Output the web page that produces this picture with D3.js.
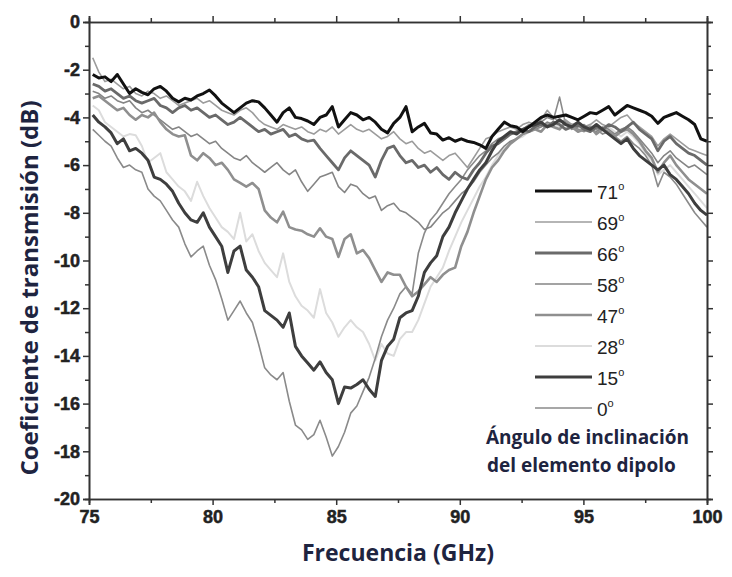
<!DOCTYPE html>
<html><head><meta charset="utf-8">
<script src="https://cdn.jsdelivr.net/npm/d3@7"></script>
<style>body{margin:0;background:#fff}svg{display:block}</style>
</head><body>
<svg id="chart" width="732" height="577"></svg>
<script>
// Frequency grid (GHz), evenly sampled
const freqStart = 75.15, freqStep = 0.2485, nPts = 101;
const freq = d3.range(nPts).map(i => freqStart + i * freqStep);

const xTicks = [75, 80, 85, 90, 95, 100];
const xMinorTicks = [77.5, 82.5, 87.5, 92.5, 97.5];
const yTicks = [0, -2, -4, -6, -8, -10, -12, -14, -16, -18, -20];
const yMinorTicks = [-1, -3, -5, -7, -9, -11, -13, -15, -17, -19];

const labels = ["71", "69", "66", "58", "47", "28", "15", "0"];

const s71 = [-2.2,-2.35,-2.3,-2.5,-2.2,-2.6,-3.0,-2.8,-2.95,-3.05,-2.8,-2.7,-2.9,-3.2,-3.35,-3.2,-3.27,-3.1,-3.0,-2.85,-3.1,-3.4,-3.6,-3.8,-3.6,-3.4,-3.3,-3.35,-3.6,-3.9,-4.2,-3.8,-3.6,-4.0,-4.05,-4.15,-4.3,-4.0,-3.9,-3.55,-4.4,-4.1,-3.8,-3.9,-4.1,-4.0,-4.2,-4.5,-4.65,-4.25,-4.0,-3.55,-4.6,-4.4,-4.25,-4.65,-4.7,-4.95,-4.85,-5.0,-4.9,-5.0,-5.05,-5.15,-5.3,-4.8,-4.5,-4.2,-4.35,-4.4,-4.6,-4.4,-4.2,-4.0,-3.9,-4.0,-3.95,-3.9,-4.0,-4.1,-3.95,-3.8,-3.85,-3.7,-3.55,-3.9,-3.7,-3.5,-3.6,-3.7,-3.8,-3.95,-4.25,-4.0,-3.9,-3.8,-3.95,-4.1,-4.3,-4.9,-5.0];
const s69 = [-1.5,-2.1,-2.5,-2.4,-2.6,-2.8,-2.7,-3.0,-3.1,-2.9,-3.0,-3.2,-3.1,-3.3,-3.5,-3.4,-3.3,-3.2,-3.4,-3.3,-3.5,-3.7,-3.8,-3.9,-3.7,-3.6,-3.8,-4.1,-4.3,-4.4,-4.5,-4.3,-4.4,-4.5,-4.4,-4.6,-4.7,-4.5,-4.6,-4.4,-4.7,-4.5,-4.3,-4.5,-4.6,-4.5,-4.7,-4.9,-4.8,-4.6,-4.9,-5.1,-5.0,-5.3,-5.5,-5.4,-5.6,-5.8,-5.6,-5.5,-5.8,-6.1,-5.7,-5.3,-4.9,-4.8,-4.6,-4.5,-4.4,-4.5,-4.3,-4.2,-4.3,-4.1,-3.7,-4.0,-4.2,-4.1,-4.3,-4.2,-4.4,-4.3,-4.1,-4.3,-4.4,-4.2,-4.0,-3.9,-4.2,-4.4,-4.6,-4.8,-5.2,-4.9,-4.7,-4.9,-5.1,-5.3,-5.4,-5.5,-5.6];
const s66 = [-2.6,-2.7,-2.9,-2.8,-3.0,-3.2,-3.1,-3.3,-3.4,-3.3,-3.2,-3.5,-3.6,-3.8,-3.6,-3.5,-3.7,-3.6,-3.8,-4.0,-3.9,-4.1,-4.3,-4.2,-4.0,-4.2,-4.4,-4.6,-4.5,-4.7,-4.6,-4.5,-4.8,-4.7,-4.9,-5.0,-4.95,-5.3,-5.6,-5.9,-6.2,-5.7,-5.4,-5.6,-5.8,-6.0,-6.5,-5.8,-5.3,-5.2,-5.6,-5.9,-5.8,-6.1,-6.0,-6.3,-6.1,-6.4,-6.6,-6.3,-6.5,-6.6,-6.2,-5.9,-5.5,-5.2,-5.1,-4.9,-4.7,-4.6,-4.5,-4.6,-4.4,-4.3,-4.4,-4.2,-4.3,-4.5,-4.4,-4.3,-4.5,-4.6,-4.4,-4.5,-4.3,-4.4,-4.6,-4.4,-4.2,-4.5,-4.7,-4.9,-5.4,-5.0,-4.8,-5.1,-5.3,-5.5,-5.6,-5.8,-6.0];
const s58 = [-2.9,-3.0,-3.2,-3.1,-3.3,-3.4,-3.3,-3.6,-3.8,-3.7,-3.9,-4.1,-4.3,-4.5,-4.4,-4.6,-4.8,-4.7,-4.9,-5.1,-5.0,-5.3,-5.5,-5.7,-5.8,-5.6,-5.9,-6.1,-6.3,-6.1,-5.9,-6.2,-6.4,-6.2,-6.7,-7.1,-6.8,-6.5,-6.4,-6.3,-6.9,-7.15,-6.8,-6.9,-7.2,-7.4,-7.3,-7.9,-7.7,-7.6,-7.9,-8.0,-8.2,-8.4,-8.7,-8.6,-8.3,-8.0,-7.8,-7.5,-7.2,-7.0,-6.7,-6.3,-6.0,-5.7,-5.5,-5.2,-5.0,-4.9,-4.7,-4.6,-4.5,-4.4,-4.2,-4.3,-4.1,-4.3,-4.5,-4.4,-4.3,-4.5,-4.6,-4.4,-4.5,-4.7,-4.5,-4.4,-4.6,-4.9,-5.2,-5.5,-5.9,-5.6,-5.4,-5.7,-5.9,-6.1,-6.0,-6.2,-6.4];
const s47 = [-3.2,-3.1,-3.3,-3.5,-3.7,-3.6,-3.9,-4.1,-3.9,-4.0,-3.8,-4.2,-4.5,-4.7,-4.8,-4.75,-5.6,-5.8,-5.5,-5.7,-6.0,-5.9,-6.2,-6.6,-6.75,-6.9,-6.75,-7.0,-7.9,-8.2,-8.4,-7.95,-8.6,-8.7,-8.75,-8.9,-9.0,-8.65,-9.0,-9.1,-9.85,-9.1,-8.9,-9.7,-9.56,-9.9,-10.4,-10.9,-10.5,-10.6,-10.6,-11.1,-11.5,-11.3,-11.0,-10.7,-10.9,-10.6,-10.4,-10.3,-9.4,-8.8,-8.0,-7.3,-6.6,-6.1,-5.8,-5.4,-5.1,-4.9,-4.7,-4.6,-4.5,-4.6,-4.3,-4.4,-4.5,-4.2,-4.4,-4.6,-4.5,-4.4,-4.7,-4.5,-4.6,-4.8,-4.6,-4.5,-4.7,-5.0,-5.4,-5.7,-6.3,-5.9,-5.6,-6.0,-6.3,-6.6,-6.8,-7.0,-7.2];
const s28 = [-3.5,-3.7,-4.2,-4.4,-4.6,-4.8,-4.7,-4.75,-5.2,-5.9,-5.7,-5.5,-6.3,-6.6,-6.9,-7.1,-7.5,-6.7,-7.3,-7.8,-8.2,-8.6,-8.8,-9.1,-8.0,-9.2,-8.9,-9.6,-10.1,-10.4,-10.7,-9.7,-10.9,-11.5,-11.9,-12.1,-12.4,-11.2,-12.2,-12.6,-13.2,-12.8,-12.5,-12.8,-13.0,-13.5,-14.2,-13.5,-13.9,-14.0,-13.3,-13.0,-13.0,-12.5,-11.8,-11.1,-10.7,-10.3,-9.6,-9.0,-8.4,-7.9,-7.4,-6.9,-6.5,-6.0,-5.6,-5.3,-5.1,-4.9,-4.8,-4.6,-4.5,-4.4,-4.2,-4.3,-4.4,-4.2,-4.3,-4.5,-4.4,-4.3,-4.5,-4.6,-4.4,-4.6,-4.8,-4.6,-4.8,-5.1,-5.5,-5.8,-6.4,-6.2,-6.0,-6.3,-6.6,-6.9,-7.2,-7.5,-7.8];
const s15 = [-3.9,-4.2,-4.4,-4.65,-5.1,-4.9,-5.4,-5.3,-5.5,-5.8,-6.5,-6.6,-6.8,-7.1,-7.6,-8.0,-8.3,-8.4,-8.0,-8.6,-9.0,-9.4,-10.5,-9.6,-9.4,-10.4,-10.7,-11.1,-12.1,-12.3,-12.5,-12.8,-12.2,-13.6,-14.0,-14.3,-14.6,-14.25,-14.7,-15.0,-16.0,-15.3,-15.35,-15.2,-15.0,-15.4,-15.7,-14.2,-13.6,-13.3,-12.4,-12.2,-12.1,-11.5,-10.5,-10.1,-9.8,-9.0,-8.6,-8.0,-7.5,-7.0,-6.6,-6.2,-5.9,-5.4,-5.0,-4.8,-4.6,-4.7,-4.5,-4.4,-4.3,-4.2,-4.4,-4.3,-4.1,-4.3,-4.4,-4.2,-4.4,-4.5,-4.3,-4.5,-4.7,-4.9,-5.1,-4.9,-5.3,-5.6,-5.8,-6.0,-6.2,-6.0,-6.4,-6.6,-6.9,-7.2,-7.6,-7.9,-8.1];
const s0 = [-4.5,-4.75,-5.0,-5.2,-5.7,-6.1,-6.0,-6.2,-6.3,-7.0,-7.3,-7.5,-7.9,-8.3,-8.6,-9.3,-9.85,-9.6,-9.4,-10.2,-10.8,-11.6,-12.5,-12.1,-11.7,-12.2,-12.6,-13.5,-14.5,-14.8,-15.0,-14.7,-15.9,-16.9,-17.1,-17.5,-17.3,-16.7,-17.4,-18.2,-17.8,-17.2,-16.4,-16.1,-15.5,-14.9,-14.1,-13.2,-12.5,-12.0,-11.4,-11.1,-11.4,-9.7,-8.85,-8.3,-8.0,-7.6,-7.2,-6.9,-6.6,-6.2,-5.9,-5.6,-5.4,-5.1,-4.9,-4.8,-4.7,-4.6,-4.5,-4.3,-4.4,-4.2,-4.0,-4.1,-3.15,-4.3,-4.3,-4.5,-4.6,-4.4,-4.5,-4.7,-4.6,-4.8,-5.0,-4.8,-5.1,-5.3,-5.6,-6.0,-6.9,-6.3,-6.5,-6.8,-7.2,-7.6,-8.0,-8.3,-8.6];

const seriesValues = [s71, s69, s66, s58, s47, s28, s15, s0];
const styles = [
  {c:"#111111", w:3},
  {c:"#9c9c9c", w:1.6},
  {c:"#6a6a6a", w:2.8},
  {c:"#858585", w:1.6},
  {c:"#8f8f8f", w:2.6},
  {c:"#dcdcdc", w:2},
  {c:"#3e3e3e", w:3},
  {c:"#8a8a8a", w:1.6}
];
const drawOrder = [5, 7, 1, 3, 4, 2, 6, 0];

const svg = d3.select("#chart");
const L = 89, R = 707, T = 22, B = 499;
const x = d3.scaleLinear().domain([75, 100]).range([L, R]);
const y = d3.scaleLinear().domain([-20, 0]).range([B, T]);

const plot = svg.append("g");
const line = d3.line().x((d, i) => x(freq[i])).y(d => y(d));
drawOrder.forEach(si => {
  plot.append("path").datum(seriesValues[si])
    .attr("d", line).attr("fill", "none")
    .attr("stroke", styles[si].c).attr("stroke-width", styles[si].w)
    .attr("stroke-linejoin", "round");
});

// Axes
const axisColor = "#333";
const fmt = d => String(d);
function styleAxis(g) {
  g.select(".domain").attr("stroke", axisColor).attr("stroke-width", 1.6);
  g.selectAll(".tick line").attr("stroke", axisColor).attr("stroke-width", 1.5);
  g.selectAll("text").attr("fill", "#222")
    .style("font-family", "'Liberation Sans', Arial, sans-serif")
    .style("font-size", "18px").style("font-weight", "bold")
    .attr("stroke", "#222").attr("stroke-width", 0.5);
}
svg.append("g").attr("transform", `translate(${L},0)`)
  .call(d3.axisLeft(y).tickValues(yTicks).tickSize(6).tickPadding(3).tickFormat(fmt)).call(styleAxis);
svg.append("g").attr("transform", `translate(${L},0)`)
  .call(d3.axisLeft(y).tickValues(yMinorTicks).tickSize(4).tickFormat("")).call(styleAxis);
svg.append("g").attr("transform", `translate(${R},0)`)
  .call(d3.axisRight(y).tickValues(yTicks).tickSize(6).tickFormat("")).call(styleAxis);
svg.append("g").attr("transform", `translate(${R},0)`)
  .call(d3.axisRight(y).tickValues(yMinorTicks).tickSize(4).tickFormat("")).call(styleAxis);
svg.append("g").attr("transform", `translate(0,${B})`)
  .call(d3.axisBottom(x).tickValues(xTicks).tickSize(6).tickPadding(5).tickFormat(fmt)).call(styleAxis);
svg.append("g").attr("transform", `translate(0,${B})`)
  .call(d3.axisBottom(x).tickValues(xMinorTicks).tickSize(4).tickFormat("")).call(styleAxis);
svg.append("g").attr("transform", `translate(0,${T})`)
  .call(d3.axisTop(x).tickValues(xTicks).tickSize(6).tickFormat("")).call(styleAxis);
svg.append("g").attr("transform", `translate(0,${T})`)
  .call(d3.axisTop(x).tickValues(xMinorTicks).tickSize(4).tickFormat("")).call(styleAxis);

// Axis titles
const titleColor = "#1e2440";
svg.append("text").attr("x", 398).attr("y", 561).attr("text-anchor", "middle")
  .attr("fill", titleColor).style("font-family", "'Open Sans', sans-serif").style("font-weight", "bold")
  .style("font-size", "23px").text("Frecuencia (GHz)");
svg.append("text").attr("transform", "translate(38,288) rotate(-90)").attr("text-anchor", "middle")
  .attr("fill", titleColor).style("font-family", "'Open Sans', sans-serif").style("font-weight", "bold")
  .style("font-size", "24px").text("Coeficiente de transmisión (dB)");

// Legend
const legY0 = 191, legDy = 31;
const leg = svg.append("g");
labels.forEach((lab, i) => {
  const yy = legY0 + i * legDy;
  leg.append("line").attr("x1", 535).attr("x2", 592).attr("y1", yy).attr("y2", yy)
    .attr("stroke", styles[i].c).attr("stroke-width", styles[i].w);
  const t = leg.append("text").attr("x", 597).attr("y", yy + 8).attr("fill", "#222")
    .style("font-family", "'Liberation Sans', Arial, sans-serif").style("font-size", "19px");
  t.append("tspan").text(lab);
  t.append("tspan").attr("dy", -9).style("font-size", "11px").text("o");
});
svg.append("text").attr("x", 486).attr("y", 444).attr("fill", titleColor)
  .style("font-family", "'Open Sans', sans-serif").style("font-weight", "bold").style("font-size", "19px")
  .text("Ángulo de inclinación");
svg.append("text").attr("x", 487).attr("y", 472).attr("fill", titleColor)
  .style("font-family", "'Open Sans', sans-serif").style("font-weight", "bold").style("font-size", "19px")
  .text("del elemento dipolo");
</script>
</body></html>
